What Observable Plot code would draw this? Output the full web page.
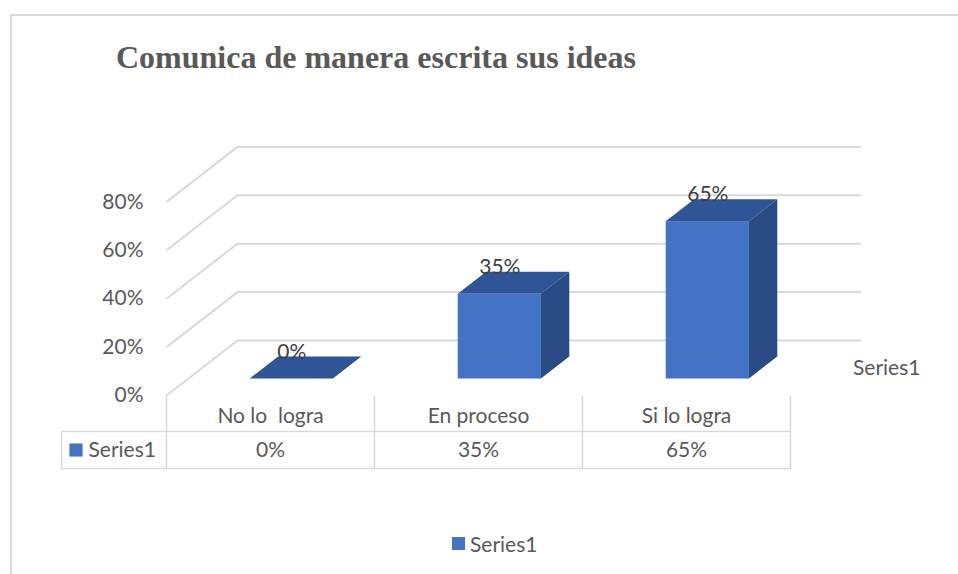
<!DOCTYPE html>
<html>
<head>
<meta charset="utf-8">
<script src="https://cdn.jsdelivr.net/npm/d3@7"></script>
<script src="https://cdn.jsdelivr.net/npm/@observablehq/plot@0.6"></script>
<style>
  html, body { margin: 0; padding: 0; background: #fff; }
  #wrap { position: relative; width: 958px; height: 574px; overflow: hidden; font-family: Lato, sans-serif; }
  #frame { position: absolute; left: 10px; top: 14px; right: -4px; bottom: -4px; border-left: 2px solid #D9D9D9; border-top: 2px solid #D9D9D9; }
  #title { position: absolute; left: 116px; top: 41px; font-family: "Liberation Serif", "Times New Roman", serif; font-weight: bold; font-size: 32px; line-height: 32px; color: #595959; white-space: nowrap; }
  #chart { position: absolute; left: 0; top: 0; }
  #legend { position: absolute; left: 452px; top: 530px; height: 27px; display: flex; align-items: center; font-size: 21px; color: #595959; }
  #legend .sw { width: 13px; height: 13px; background: #4472C4; margin-right: 5px; }
  svg text { white-space: pre; }
</style>
</head>
<body>
<div id="wrap">
  <div id="frame"></div>
  <div id="chart"></div>
  <div id="title"></div>
  <div id="legend"><span class="sw"></span><span id="legtext"></span></div>
</div>
<script>
// ---- data ----
const titleText = "Comunica de manera escrita sus ideas";
const seriesName = "Series1";
const categories = ["No lo  logra", "En proceso", "Si lo logra"];
const values = [0, 0.35, 0.65];
const yTicks = [0, 0.2, 0.4, 0.6, 0.8];

// ---- layout / style constants ----
const W = 958, H = 574;
const Y0 = 395, PXU = 242;          // pixel of value 0 on the front plane, pixels per unit
const XPX = 208;                    // pixels per category
const WX = 71 / XPX, WY = 55 / PXU; // depth of the floor in data units
const F0 = 0.3, F1 = 0.7, HALF = 0.2;
const py2v = py => (Y0 - py) / PXU;
const px2x = px => (px - 270) / XPX;
const FRONT = "#4472C4", TOP = "#2F5597", SIDE = "#2A4A84";
const GRID = "#D9D9D9", TXT = "#595959", LBL = "#404040";
const FS = 21;
const pct = d3.format(".0%");

document.getElementById("title").textContent = titleText;
document.getElementById("legtext").textContent = seriesName;

const bars = categories.map((c, i) => ({c, i, v: values[i]}));
const topPts = bars.flatMap(d => [F0, F1].map(f => ({c: d.c, y: d.v + f * WY, x1: d.i - HALF + f * WX, x2: d.i + HALF + f * WX})));
const sidePts = bars.flatMap(d => [F0, F1].map(f => ({c: d.c, x: d.i + HALF + f * WX, y1: f * WY, y2: d.v + f * WY})));

const colEdges = [-0.5, 0.5, 1.5, 2.5];
const tableLeft = px2x(61);
const rowTop = py2v(431), rowBottom = py2v(468);
const rowMid = (rowTop + rowBottom) / 2;

const chart = Plot.plot({
  width: W,
  height: H,
  marginLeft: 166,
  marginRight: W - 790,
  marginTop: Y0 - 0.8 * PXU,
  marginBottom: H - Y0,
  x: {type: "linear", domain: [-0.5, 2.5], axis: null},
  y: {type: "linear", domain: [0, 0.8], axis: null},
  style: {fontFamily: "Lato, sans-serif", fontSize: FS + "px", color: TXT, background: "transparent", overflow: "visible"},
  marks: [
    // back wall gridlines
    Plot.ruleY(yTicks, {y: t => t + WY, x1: () => -0.5 + WX, x2: () => 2.5 + WX, stroke: GRID, strokeWidth: 2}),
    // side wall diagonals
    Plot.link(yTicks, {x1: () => -0.5, y1: t => t, x2: () => -0.5 + WX, y2: t => t + WY, stroke: GRID, strokeWidth: 2}),
    Plot.axisY(yTicks, {tickSize: 0, tickPadding: 23, tickFormat: pct, fontSize: FS, label: null, fill: TXT}),
    // 3D bars
    Plot.rect(bars, {x1: d => d.i - HALF + F0 * WX, x2: d => d.i + HALF + F0 * WX, y1: () => F0 * WY, y2: d => d.v + F0 * WY, fill: FRONT}),
    Plot.areaX(topPts, {y: "y", x1: "x1", x2: "x2", z: "c", fill: TOP, curve: "linear"}),
    Plot.areaY(sidePts, {x: "x", y1: "y1", y2: "y2", z: "c", fill: SIDE, curve: "linear"}),
    // data labels
    Plot.text(bars, {x: d => d.i + F0 * WX, y: d => d.v + F1 * WY, dy: -5, text: d => pct(d.v), fill: LBL, fontSize: FS}),
    // depth-axis label
    Plot.text([seriesName], {x: () => 2.5 + 0.5 * WX, y: () => 0.5 * WY, dx: 27, text: d => d, textAnchor: "start", fill: TXT, fontSize: FS}),
    // data table lines
    Plot.link(colEdges, {x1: d => d, x2: d => d, y1: () => 0, y2: () => rowBottom, stroke: GRID, strokeWidth: 1.5}),
    Plot.link([rowTop, rowBottom], {x1: () => tableLeft, x2: () => 2.5, y1: d => d, y2: d => d, stroke: GRID, strokeWidth: 1.5}),
    Plot.link([tableLeft], {x1: d => d, x2: d => d, y1: () => rowTop, y2: () => rowBottom, stroke: GRID, strokeWidth: 1.5}),
    // data table texts
    Plot.text(bars, {x: "i", y: () => py2v(416), text: "c", fill: TXT, fontSize: FS, lineAnchor: "middle"}),
    Plot.text(bars, {x: "i", y: () => rowMid, text: d => pct(d.v), fill: TXT, fontSize: FS, lineAnchor: "middle"}),
    Plot.dot([seriesName], {x: () => px2x(75.5), y: () => rowMid, symbol: "square", r: 7.4, fill: FRONT, stroke: null}),
    Plot.text([seriesName], {x: () => px2x(88), y: () => rowMid, text: d => d, textAnchor: "start", fill: TXT, fontSize: FS, lineAnchor: "middle"})
  ]
});
document.getElementById("chart").appendChild(chart);
</script>
</body>
</html>
